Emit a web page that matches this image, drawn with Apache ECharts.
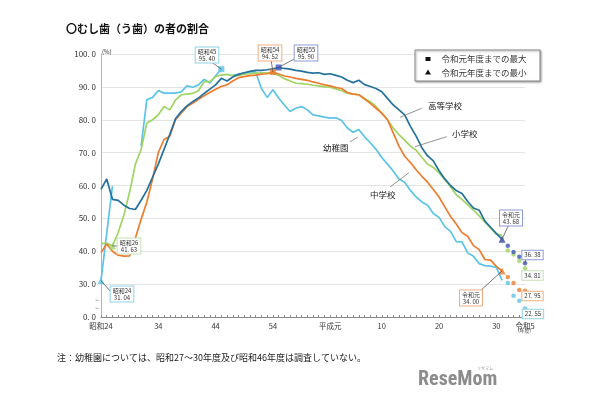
<!DOCTYPE html>
<html><head><meta charset="utf-8">
<script src="https://cdn.jsdelivr.net/npm/echarts@6/dist/echarts.min.js"></script>
<style>html,body{margin:0;padding:0;background:#fff}#c{width:610px;height:400px}</style>
</head><body><div id="c"></div>
<script>
// ---- categories (fiscal years 昭和24 = 1949 … 令和5 = 2023) ----
const years = [];
for (let y = 1949; y <= 2023; y++) years.push(String(y));
const xTickYears = ['1949','1959','1969','1979','1989','1998','2008','2018','2023'];
const xTickText  = ['昭和24','34','44','54','平成元','10','20','30','令和5'];

// ---- series values 1949–2019 (line part) ----
const koukou = [58.8,62.0,55.8,55.5,54.0,53.0,52.7,55.5,58.5,62.5,
  66.5,71.0,75.5,80.3,82.5,84.2,85.5,86.6,88.0,89.3,
  90.6,92.6,91.8,93.0,93.8,94.3,94.7,95.0,95.0,95.2,
  95.5,95.90,95.6,95.4,95.0,94.8,94.4,94.2,94.3,93.8,
  94.0,93.5,93.0,92.0,91.3,92.0,90.7,90.1,89.5,88.5,
  86.5,84.5,83.0,81.5,78.0,75.0,71.5,69.0,67.5,64.5,
  62.0,60.0,58.46,57.60,55.12,53.14,52.49,49.18,47.30,45.36,
  43.68];
const shougakkou = [42.4,42.4,41.63,45.7,51.0,58.0,66.5,70.9,79.0,80.0,
  81.5,84.0,83.0,86.0,87.6,87.8,88.0,88.8,91.6,91.6,
  93.1,93.6,93.8,93.4,93.5,93.9,94.0,94.2,94.3,94.3,
  94.2,93.5,92.5,91.8,91.1,91.0,90.8,90.5,90.3,90.0,
  89.9,89.4,88.8,88.1,87.8,87.6,86.5,85.5,84.0,82.0,
  80.0,77.5,75.5,73.8,72.0,70.7,68.5,66.5,65.5,63.8,
  61.8,59.63,57.20,55.76,54.14,52.54,50.76,48.89,47.06,45.30,
  44.82];
const chuugakkou = [39.6,42.2,40.0,38.8,38.5,38.6,44.0,49.7,55.0,62.0,
  70.0,74.0,75.0,80.0,82.0,84.0,85.0,86.2,87.3,88.3,
  89.3,90.1,90.6,91.8,92.8,93.1,93.4,93.6,93.9,94.0,
  94.52,93.9,93.3,93.0,92.6,92.3,92.0,91.5,91.1,90.6,
  90.3,89.8,89.5,88.3,87.8,87.6,86.3,85.0,83.5,82.0,
  80.0,76.0,72.0,68.9,67.0,64.8,62.8,61.0,58.8,56.5,
  53.5,50.60,48.31,45.66,44.56,41.72,40.49,37.49,37.32,35.41,
  34.00];
const youchien = [31.04,45.5,59.8,null,null,null,null,72.0,86.1,86.8,
  88.9,88.1,88.1,88.1,88.5,90.3,89.9,90.6,92.3,91.2,
  93.4,95.40,null,93.6,93.8,94.2,94.6,94.5,89.5,86.8,
  89.1,86.6,84.5,82.5,83.5,84.0,83.0,81.5,81.2,80.8,
  80.5,80.6,79.8,77.5,76.2,77.0,74.8,73.0,71.0,68.5,
  66.5,64.4,62.0,61.0,58.5,56.5,55.0,54.0,51.5,50.3,
  47.5,46.07,42.95,42.86,39.51,38.46,36.23,35.64,35.45,35.10,
  31.16];

// ---- 令和2〜5 (dots only) ----
const recentYears = ['2020','2021','2022','2023'];
const koukouRecent     = [41.66,39.77,38.30,36.38];
const shougakkouRecent = [40.21,39.04,37.02,34.81];
const chuugakkouRecent = [32.16,30.38,28.24,27.95];
const youchienRecent   = [30.34,26.49,24.93,22.55];

// ---- max / min markers ----
const maxYouchien = ['1970', 95.40];
const maxChuugakkou = ['1979', 94.52];
const maxKoukou = ['1980', 95.90];
const minYouchien = ['1949', 31.04];
const minShougakkou = ['1951', 41.63];
const minChuugakkou = ['2019', 34.00];
const minKoukou = ['2019', 43.68];

const C_KOU = '#23719c', C_SHO = '#9fd462', C_CHU = '#ee7c30', C_YOU = '#5cc3e8', C_KOUM = '#3d55b5';
const FONT = '"Noto Sans CJK JP", "Noto Sans", sans-serif';

const lineYears = years.slice(0, 71);
function pairs(ys, vs) { return ys.map((y, i) => [y, vs[i]]); }
function lineSeries(name, data, color) {
  return { name, type: 'line', data: pairs(lineYears, data), showSymbol: false, connectNulls: false,
    lineStyle: { color, width: 1.7 }, itemStyle: { color }, z: 3 };
}
function dots(name, vs, color) {
  return { name, type: 'scatter', data: pairs(recentYears, vs), symbol: 'circle', symbolSize: 4.5,
    itemStyle: { color }, z: 4 };
}
function marker(pt, sym, color, size) {
  return { type: 'scatter', data: [pt], symbol: sym, symbolSize: size, itemStyle: { color }, z: 6 };
}

const chart = echarts.init(document.getElementById('c'), null, { renderer: 'canvas' });
chart.setOption({
  animation: false,
  backgroundColor: '#fff',
  textStyle: { fontFamily: FONT },
  grid: { left: 101, right: 85, top: 54, bottom: 83 },
  xAxis: {
    type: 'category', data: years, boundaryGap: false,
    axisLine: { lineStyle: { color: '#8a8a8a', width: 1 } },
    axisTick: { show: true, interval: 0, inside: true, length: 2, lineStyle: { color: '#8a8a8a' } },
    axisLabel: {
      interval: (i, v) => xTickYears.includes(v),
      formatter: v => { const k = xTickYears.indexOf(v); return k >= 0 ? xTickText[k] : ''; },
      fontSize: 7.5, color: '#333', margin: 5, fontFamily: FONT, showMinLabel: true, showMaxLabel: true
    },
    splitLine: { show: false }
  },
  yAxis: {
    type: 'value', min: 20, max: 100, interval: 10,
    axisLine: { show: true, lineStyle: { color: '#b5b5b5' } },
    axisTick: { show: false },
    axisLabel: {
      formatter: v => v === 20 ? '0. 0' : v.toFixed(1).replace('.', '. '),
      fontSize: 8, color: '#333', margin: 5, fontFamily: FONT
    },
    splitLine: { lineStyle: { color: '#e4e4e4', width: 1 } }
  },
  series: [
    lineSeries('幼稚園', youchien, C_YOU),
    lineSeries('小学校', shougakkou, C_SHO),
    lineSeries('中学校', chuugakkou, C_CHU),
    lineSeries('高等学校', koukou, C_KOU),
    dots('幼稚園R', youchienRecent, C_YOU),
    dots('小学校R', shougakkouRecent, C_SHO),
    dots('中学校R', chuugakkouRecent, C_CHU),
    dots('高等学校R', koukouRecent, C_KOUM),
    marker(maxYouchien, 'rect', C_YOU, 6),
    marker(maxChuugakkou, 'rect', C_CHU, 6),
    marker(maxKoukou, 'rect', C_KOUM, 6),
    marker(minYouchien, 'triangle', C_YOU, 7),
    marker(minShougakkou, 'triangle', C_SHO, 7),
    marker(minChuugakkou, 'triangle', C_CHU, 7),
    marker(minKoukou, 'triangle', '#34489a', 7)
  ]
});

// ---- annotations anchored to data points ----
function px(pt) { return chart.convertToPixel({ xAxisIndex: 0, yAxisIndex: 0 }, [years.indexOf(pt[0]), pt[1]]); }
const g = [];
function txt(x, y, text, opt) {
  g.push({ type: 'text', x, y, silent: true, z: 20, style: Object.assign({ text, fontFamily: FONT, fontSize: 8, fill: '#222', align: 'left', verticalAlign: 'middle' }, opt || {}) });
}
function seg(x1, y1, x2, y2, color, w) {
  g.push({ type: 'line', silent: true, z: 19, shape: { x1, y1, x2, y2 }, style: { stroke: color || '#555', lineWidth: w || 0.8 } });
}
function box(cx, cy, text, border, fromX, fromY, pt) {
  if (pt) { const p = px(pt); seg(fromX, fromY, p[0], p[1], '#555', 0.8); }
  g.push({ type: 'text', x: cx, y: cy, silent: true, z: 21, style: {
    text, fontFamily: FONT, fontSize: 6, lineHeight: 6.5, fill: '#333', align: 'center', verticalAlign: 'middle',
    backgroundColor: '#fff', borderColor: border, borderWidth: 1, padding: [1, 2, 1, 2] } });
}
box(207, 55, '昭和45\n95. 40', '#8fd3ea', 210, 61, maxYouchien);
box(270, 53, '昭和54\n94. 52', '#f2ae82', 271, 59, maxChuugakkou);
box(306, 53, '昭和55\n95. 90', '#8e9bd6', 296, 58, maxKoukou);
box(122, 294, '昭和24\n31. 04', '#8fd3ea', 111, 292, minYouchien);
box(129, 246, '昭和26\n41. 63', '#c5e0b4', 119, 246, minShougakkou);
box(511, 218, '令和元\n43. 68', '#8e9bd6', 509, 224, minKoukou);
box(471, 298, '令和元\n34. 00', '#f2ae82', 479, 292, minChuugakkou);
box(532.5, 255, '36. 38', '#8e9bd6', 526, 258, [recentYears[3], koukouRecent[3]]);
box(532.5, 275.5, '34. 81', '#c5e0b4');
box(532.5, 296, '27. 95', '#f2ae82');
box(533, 314, '22. 55', '#8fd3ea');

// series name labels with leader lines
txt(428, 106, '高等学校', { fontSize: 8.5 }); seg(421.7, 108.3, 400, 117.3, '#777', 0.8);
txt(452, 133.5, '小学校', { fontSize: 8.5 }); seg(446.7, 136.7, 415, 146.7, '#777', 0.8);
txt(323, 148, '幼稚園', { fontSize: 8.5 }); seg(350, 142, 358, 137, '#777', 0.8);
txt(370, 194.5, '中学校', { fontSize: 8.5 }); seg(390, 187, 409, 172.7, '#777', 0.8);

// title, unit, axis break, footnote
txt(66, 29, '〇むし歯（う歯）の者の割合', { fontSize: 11, fontWeight: 'bold', fill: '#111' });
txt(102, 51.5, '(%)', { fontSize: 6, fill: '#333' });
txt(97, 300, '~', { fontSize: 7, fill: '#777', align: 'center' });
txt(97, 308, '~', { fontSize: 7, fill: '#777', align: 'center' });
txt(524.6, 330, '(年度)', { fontSize: 5, fill: '#333', align: 'center' });
txt(57, 357.5, '注：幼稚園については、昭和27～30年度及び昭和46年度は調査していない。', { fontSize: 9, fill: '#222' });

// legend
g.push({ type: 'rect', silent: true, z: 18, shape: { x: 415, y: 50, width: 125, height: 31 },
  style: { fill: '#fff', stroke: '#8a8a8a', lineWidth: 1, shadowBlur: 2, shadowOffsetX: 1, shadowOffsetY: 1, shadowColor: 'rgba(0,0,0,0.35)' } });
g.push({ type: 'rect', silent: true, z: 19, shape: { x: 425.5, y: 57, width: 5, height: 4 }, style: { fill: '#111' } });
g.push({ type: 'polygon', silent: true, z: 19, shape: { points: [[428, 69.5], [425, 74.5], [431, 74.5]] }, style: { fill: '#111' } });
txt(441.5, 59, '令和元年度までの最大', { fontSize: 8.5, fill: '#333' });
txt(441.5, 72.3, '令和元年度までの最小', { fontSize: 8.5, fill: '#333' });

// site logo
txt(418, 380, 'ReseMom', { fontSize: 20, fontWeight: 'bold', fill: '#8c8c8c', fontFamily: '"Liberation Sans Narrow", "Roboto Condensed", "Liberation Sans", sans-serif' });
txt(477, 368.5, 'リセマム', { fontSize: 4, fill: '#999' });

chart.setOption({ graphic: g });
</script>
</body></html>
